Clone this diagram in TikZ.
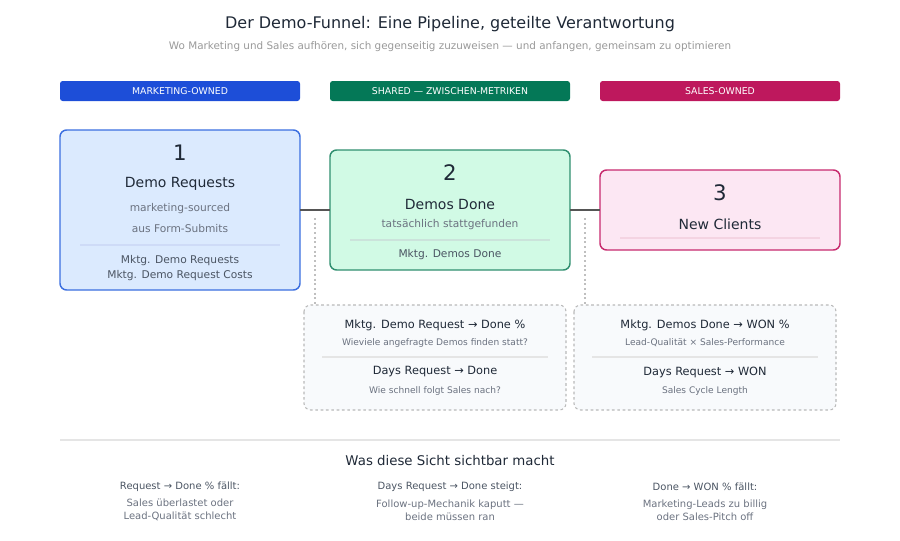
\documentclass[tikz,border=0pt]{standalone}
\usepackage{fontspec}
\setmainfont{DejaVu Sans}
\begin{document}
\begin{tikzpicture}[x=0.75pt,y=-0.75pt,
 txt/.style={inner sep=0pt,anchor=center,text=dark},
 hdr/.style={rounded corners=2pt,minimum width=180pt,minimum height=15pt,inner sep=0pt,text=white,font=\fontsize{7}{8}\selectfont},
 stage/.style={rounded corners=5pt,line width=1.1pt},
 metric/.style={rounded corners=5pt,draw=gray!55,dash pattern=on 2pt off 2pt,fill=bgA,line width=0.8pt},
 conn/.style={draw=conc,line width=1.5pt},
 dots/.style={draw=gray!50,dash pattern=on 1.5pt off 2pt,line width=1pt}]
\definecolor{dark}{HTML}{1F2937}
\definecolor{mid}{HTML}{4B5563}
\definecolor{soft}{HTML}{6B7280}
\definecolor{conc}{HTML}{555555}
\definecolor{bgA}{HTML}{F8FAFC}
\definecolor{hb}{HTML}{1D4ED8}\definecolor{hg}{HTML}{047857}\definecolor{hm}{HTML}{BE185D}
\definecolor{fb}{HTML}{DBEAFE}\definecolor{db}{HTML}{3B6FE0}
\definecolor{fg}{HTML}{D1FAE5}\definecolor{dg}{HTML}{2F8F6F}
\definecolor{fm}{HTML}{FCE7F3}\definecolor{dm}{HTML}{C72A6E}
\useasboundingbox (0,0) rectangle (900,540);
\node[txt,font=\fontsize{12}{14}\selectfont] (t) at (450,24) {Der Demo-Funnel: Eine Pipeline, geteilte Verantwortung};
\node[txt,text=gray!80,font=\fontsize{7.8}{9}\selectfont] (st) at (450,47) {Wo Marketing und Sales aufhören, sich gegenseitig zuzuweisen — und anfangen, gemeinsam zu optimieren};
\node[hdr,fill=hb] (h1) at (180,91) {MARKETING-OWNED};
\node[hdr,fill=hg] (h2) at (450,91) {SHARED — ZWISCHEN-METRIKEN};
\node[hdr,fill=hm] (h3) at (720,91) {SALES-OWNED};
% stages
\draw[stage,fill=fb,draw=db] (60,130) rectangle (300,290);
\coordinate (s1r) at (300,210);
\node[txt,font=\fontsize{16}{18}\selectfont] (n1) at (180,153) {1};
\node[txt,font=\fontsize{10.5}{12}\selectfont] (t1) at (180,184) {Demo Requests};
\node[txt,text=soft,font=\fontsize{8}{9}\selectfont] (a1) at (180,209) {marketing-sourced};
\node[txt,text=soft,font=\fontsize{8}{9}\selectfont] (b1) at (180,229) {aus Form-Submits};
\draw[db!25,line width=0.8pt] (80,245) -- (280,245);
\node[txt,text=mid,font=\fontsize{8}{9}\selectfont] (m1) at (180,261) {Mktg. Demo Requests};
\node[txt,text=mid,font=\fontsize{8}{9}\selectfont] (m1b) at (180,276) {Mktg. Demo Request Costs};
\draw[stage,fill=fg,draw=dg] (330,150) rectangle (570,270);
\coordinate (s2l) at (330,210);\coordinate (s2r) at (570,210);
\node[txt,font=\fontsize{16}{18}\selectfont] (n2) at (450,173) {2};
\node[txt,font=\fontsize{10.5}{12}\selectfont] (t2) at (450,204) {Demos Done};
\node[txt,text=soft,font=\fontsize{8}{9}\selectfont] (a2) at (450,225) {tatsächlich stattgefunden};
\draw[dg!25,line width=0.8pt] (350,240) -- (550,240);
\node[txt,text=mid,font=\fontsize{8}{9}\selectfont] (m2) at (450,255) {Mktg. Demos Done};
\draw[stage,fill=fm,draw=dm] (600,170) rectangle (840,250);
\coordinate (s3l) at (600,210);
\node[txt,font=\fontsize{16}{18}\selectfont] (n3) at (720,193) {3};
\node[txt,font=\fontsize{10.5}{12}\selectfont] (t3) at (720,224) {New Clients};
\draw[dm!20,line width=0.8pt] (620,238) -- (820,238);
\draw[conn] (s1r) -- (s2l);
\draw[conn] (s2r) -- (s3l);
% dotted
\coordinate (d1a) at (315,218);\coordinate (d1b) at (315,304);
\coordinate (d2a) at (585,218);\coordinate (d2b) at (585,304);
\draw[dots] (d1a) -- (d1b);
\draw[dots] (d2a) -- (d2b);
% metric boxes
\draw[metric] (304,305) rectangle (566,410);
\node[txt,font=\fontsize{8.5}{10}\selectfont] (k1) at (435,325) {Mktg. Demo Request → Done \%};
\node[txt,text=soft,font=\fontsize{6.8}{8}\selectfont] (k1s) at (435,343) {Wieviele angefragte Demos finden statt?};
\draw[gray!20,line width=0.8pt] (322,357) -- (548,357);
\node[txt,font=\fontsize{8.5}{10}\selectfont] (k2) at (435,372) {Days Request → Done};
\node[txt,text=soft,font=\fontsize{6.8}{8}\selectfont] (k2s) at (435,391) {Wie schnell folgt Sales nach?};
\draw[metric] (574,305) rectangle (836,410);
\node[txt,font=\fontsize{8.5}{10}\selectfont] (k3) at (705,325) {Mktg. Demos Done → WON \%};
\node[txt,text=soft,font=\fontsize{6.8}{8}\selectfont] (k3s) at (705,343) {Lead-Qualität × Sales-Performance};
\draw[gray!20,line width=0.8pt] (592,357) -- (818,357);
\node[txt,font=\fontsize{8.5}{10}\selectfont] (k4) at (705,372) {Days Request → WON};
\node[txt,text=soft,font=\fontsize{6.8}{8}\selectfont] (k4s) at (705,391) {Sales Cycle Length};
% bottom
\draw[gray!20,line width=0.8pt] (60,440) -- (840,440);
\node[txt,font=\fontsize{10}{12}\selectfont] (w) at (450,461) {Was diese Sicht sichtbar macht};
\node[txt,text=mid,font=\fontsize{7.5}{9}\selectfont] (c1) at (180,487) {Request → Done \% fällt:};
\node[txt,text=soft,font=\fontsize{7.5}{9}\selectfont,align=center] (c1b) at (180,510) {Sales überlastet oder\\[1pt]Lead-Qualität schlecht};
\node[txt,text=mid,font=\fontsize{7.5}{9}\selectfont] (c2) at (450,487) {Days Request → Done steigt:};
\node[txt,text=soft,font=\fontsize{7.5}{9}\selectfont,align=center] (c2b) at (450,510) {Follow-up-Mechanik kaputt —\\[1pt]beide müssen ran};
\node[txt,text=mid,font=\fontsize{7.5}{9}\selectfont] (c3) at (705,487) {Done → WON \% fällt:};
\node[txt,text=soft,font=\fontsize{7.5}{9}\selectfont,align=center] (c3b) at (705,510) {Marketing-Leads zu billig\\[1pt]oder Sales-Pitch off};
\end{tikzpicture}
\end{document}
